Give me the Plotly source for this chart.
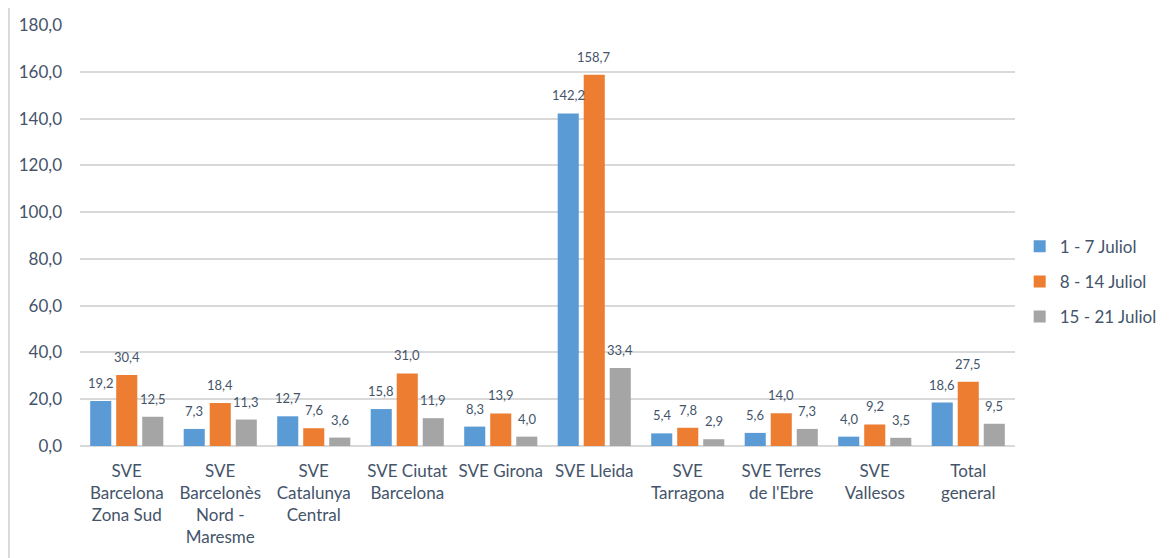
import plotly.graph_objects as go

categories = [
    "SVE<br>Barcelona<br>Zona Sud",
    "SVE<br>Barcelonès<br>Nord -<br>Maresme",
    "SVE<br>Catalunya<br>Central",
    "SVE Ciutat<br>Barcelona",
    "SVE Girona",
    "SVE Lleida",
    "SVE<br>Tarragona",
    "SVE Terres<br>de l'Ebre",
    "SVE<br>Vallesos",
    "Total<br>general",
]
series_names = ["1 - 7 Juliol", "8 - 14 Juliol", "15 - 21 Juliol"]
week1 = [19.2, 7.3, 12.7, 15.8, 8.3, 142.2, 5.4, 5.6, 4.0, 18.6]
week2 = [30.4, 18.4, 7.6, 31.0, 13.9, 158.7, 7.8, 14.0, 9.2, 27.5]
week3 = [12.5, 11.3, 3.6, 11.9, 4.0, 33.4, 2.9, 7.3, 3.5, 9.5]
colors = ["#5B9BD5", "#ED7D31", "#A5A5A5"]
text_color = "#44546A"

fig = go.Figure()
for i, (name, vals, col) in enumerate(zip(series_names, [week1, week2, week3], colors)):
    fig.add_trace(go.Bar(
        x=categories, y=vals, name=name, legendgroup=name,
        marker=dict(color=col, line=dict(width=0)),
    ))
    shift = (i - 1) * 26
    for c, v in zip(categories, vals):
        fig.add_annotation(
            x=c, y=v, text=f"{v:.1f}".replace(".", ","),
            showarrow=False, xshift=shift, yshift=18,
            font=dict(size=13, color=text_color, family="Lato"),
        )

fig.update_layout(
    width=1173, height=558,
    barmode="group", bargap=0.165, bargroupgap=0.19,
    separators=",.",
    plot_bgcolor="white", paper_bgcolor="white",
    margin=dict(l=72, r=166, t=17, b=120),
    font=dict(family="Lato", size=17, color=text_color),
    legend=dict(x=1.005, y=0.39, yanchor="middle", xanchor="left",
                font=dict(size=17, color=text_color), tracegroupgap=10,
                itemwidth=30),
    showlegend=True,
)
fig.update_yaxes(range=[0, 180], dtick=20, tickformat=".1f",
                 gridcolor="#D9D9D9", gridwidth=1.5, zeroline=True,
                 zerolinecolor="#D9D9D9", zerolinewidth=1.5,
                 ticks="", ticklabelstandoff=17, showline=False,
                 automargin=False)
fig.update_xaxes(showline=False, ticks="", tickangle=0, automargin=False,
                 ticklabelstandoff=13)

fig.add_shape(type="line", xref="paper", yref="paper",
              x0=-0.076, x1=-0.076, y0=-0.3, y1=1.06,
              line=dict(color="#D9D9D9", width=2))

fig.write_html("out.html")
